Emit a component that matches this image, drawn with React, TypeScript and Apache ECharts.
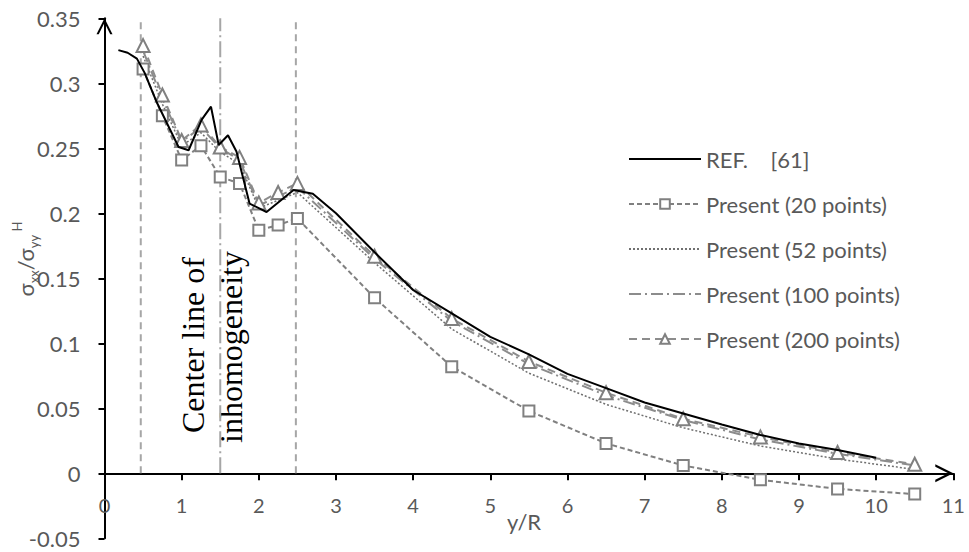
import React, { useEffect, useRef } from "react";
import * as echarts from "echarts";

// ---- data ----
const xPresent = [0.5, 0.75, 1, 1.25, 1.5, 1.75, 2, 2.25, 2.5, 3.5, 4.5, 5.5, 6.5, 7.5, 8.5, 9.5, 10.5];
const present20 = [0.311, 0.275, 0.241, 0.252, 0.228, 0.223, 0.187, 0.191, 0.196, 0.135, 0.082, 0.048, 0.023, 0.006, -0.005, -0.012, -0.016];
const present52 = [0.321, 0.284, 0.252, 0.262, 0.247, 0.238, 0.204, 0.21, 0.216, 0.162, 0.111, 0.077, 0.053, 0.035, 0.021, 0.011, 0.003];
const present100 = [0.325, 0.288, 0.255, 0.266, 0.25, 0.241, 0.206, 0.213, 0.22, 0.165, 0.117, 0.084, 0.06, 0.041, 0.026, 0.015, 0.006];
const present200 = [0.329, 0.291, 0.256, 0.268, 0.251, 0.243, 0.208, 0.216, 0.223, 0.167, 0.119, 0.086, 0.062, 0.042, 0.028, 0.016, 0.007];

const refX = [0.18, 0.3, 0.42, 0.52, 0.68, 0.96, 1.09, 1.26, 1.38, 1.48, 1.6, 1.71, 1.88, 2.1, 2.45, 2.7, 3.0, 3.5, 4.0, 4.5, 5.0, 5.5, 6.0, 6.5, 7.0, 7.5, 8.0, 8.5, 9.0, 9.5, 10.0];
const refY = [0.3255, 0.3235, 0.319, 0.308, 0.285, 0.251, 0.2485, 0.272, 0.282, 0.2525, 0.26, 0.2475, 0.2075, 0.201, 0.218, 0.215, 0.2, 0.17, 0.141, 0.123, 0.105, 0.0915, 0.0765, 0.0655, 0.0545, 0.046, 0.0375, 0.0295, 0.023, 0.018, 0.012];

const boundaryLinesX = [0.47, 2.48];
const centerLinesX = [1.5];
const guideBottom = 0;
const guideTop = 0.35;

const seriesNames = [
  "REF.\u00a0\u00a0\u00a0\u00a0[61]",
  "Present (20 points)",
  "Present (52 points)",
  "Present (100 points)",
  "Present (200 points)",
];

const xMin = 0, xMax = 11, xStep = 1;
const yMin = -0.05, yMax = 0.35, yStep = 0.05;

const zip = (xs: number[], ys: number[]) => xs.map((x, i) => [x, ys[i]]);

const FONT = 'Lato, "Open Sans", sans-serif';
const GRAY_TEXT = "#595959";
const chevron = "path://M0,100 L50,0 L100,100 L86,100 L50,28 L14,100 Z";
const CLEAR = "rgba(0,0,0,0)";

export default function App() {
  const ref = useRef<HTMLDivElement>(null);
  useEffect(() => {
    if (!ref.current) return;
    const chart = echarts.init(ref.current, undefined, { renderer: "svg" });

    const guideSeries: any[] = [];
    boundaryLinesX.forEach((x) =>
      guideSeries.push({
        type: "line",
        data: [[x, guideBottom], [x, guideTop]],
        symbol: "none",
        silent: true,
        z: 1,
        lineStyle: { color: "#a6a6a6", width: 2, type: [7, 5] },
      })
    );
    centerLinesX.forEach((x) =>
      guideSeries.push({
        type: "line",
        data: [[x, guideBottom], [x, guideTop]],
        symbol: "none",
        silent: true,
        z: 1,
        lineStyle: { color: "#a6a6a6", width: 2, type: [16, 4, 2, 4] },
      })
    );

    chart.setOption({
      animation: false,
      grid: { left: 104.5, right: 15.7, top: 18.3, bottom: 13.7, outerBoundsMode: "none" },
      xAxis: {
        type: "value",
        min: xMin,
        max: xMax,
        interval: xStep,
        axisLine: {
          onZero: true,
          lineStyle: { color: "#000", width: 2 },
          symbol: ["none", chevron],
          symbolSize: [18, 18],
          symbolOffset: [0, -9],
        },
        axisTick: { show: true, length: 7, lineStyle: { color: "#000", width: 2 } },
        axisLabel: { color: GRAY_TEXT, fontFamily: FONT, fontSize: 20, margin: -43 },
        splitLine: { show: false },
      },
      yAxis: {
        type: "value",
        min: yMin,
        max: yMax,
        interval: yStep,
        axisLine: {
          show: true,
          onZero: false,
          lineStyle: { color: "#000", width: 2 },
          symbol: ["none", chevron],
          symbolSize: [16, 16],
          symbolOffset: [0, -8],
        },
        axisTick: { show: true, length: 6, lineStyle: { color: "#000", width: 2 } },
        axisLabel: {
          color: GRAY_TEXT,
          fontFamily: FONT,
          fontSize: 22,
          margin: 24,
          formatter: (v: number) => String(parseFloat(v.toFixed(2))),
        },
        splitLine: { show: false },
      },
      legend: {
        orient: "vertical",
        left: 623,
        top: 143,
        itemWidth: 72,
        itemHeight: 12,
        itemGap: 23,
        textStyle: { fontFamily: FONT, fontSize: 22, color: GRAY_TEXT, lineHeight: 20 },
        data: seriesNames,
      },
      graphic: [
        {
          type: "text",
          x: 193,
          y: 345,
          rotation: Math.PI / 2,
          style: {
            text: "Center line of",
            fontFamily: '"Liberation Serif", serif',
            fontSize: 32,
            fill: "#000",
            align: "center",
            verticalAlign: "middle",
          },
        },
        {
          type: "text",
          x: 231,
          y: 347,
          rotation: Math.PI / 2,
          style: {
            text: "inhomogeneity",
            fontFamily: '"Liberation Serif", serif',
            fontSize: 32,
            fill: "#000",
            align: "center",
            verticalAlign: "middle",
          },
        },
        {
          type: "text",
          x: 524,
          y: 521,
          style: {
            text: "y/R",
            fontFamily: FONT,
            fontSize: 22,
            fill: GRAY_TEXT,
            align: "center",
            verticalAlign: "middle",
          },
        },
        {
          type: "text",
          x: 25,
          y: 259,
          rotation: Math.PI / 2,
          style: {
            text: "{m|σ}{s|xx}{m|/σ}{s|yy}{p| H}",
            align: "center",
            verticalAlign: "middle",
            rich: {
              m: { fontFamily: FONT, fontSize: 22, fill: GRAY_TEXT, lineHeight: 30, verticalAlign: "middle" },
              s: { fontFamily: FONT, fontSize: 13, fill: GRAY_TEXT, lineHeight: 30, verticalAlign: "bottom" },
              p: { fontFamily: FONT, fontSize: 13, fill: GRAY_TEXT, lineHeight: 30, verticalAlign: "top" },
            },
          },
        },
      ],
      series: [
        ...guideSeries,
        {
          name: seriesNames[1],
          type: "line",
          data: zip(xPresent, present20),
          symbol: "rect",
          symbolSize: 11,
          z: 3,
          lineStyle: { color: "#808080", width: 2, type: [5, 3] },
          itemStyle: { color: "#ffffff", borderColor: "#808080", borderWidth: 2 },
        },
        {
          name: seriesNames[2],
          type: "line",
          data: zip(xPresent, present52),
          symbol: "none",
          z: 3,
          lineStyle: { color: "#707070", width: 1.5, type: [2, 2] },
          itemStyle: { color: CLEAR, borderWidth: 0 },
        },
        {
          name: seriesNames[3],
          type: "line",
          data: zip(xPresent, present100),
          symbol: "none",
          z: 3,
          lineStyle: { color: "#8c8c8c", width: 2, type: [12, 4, 2, 4] },
          itemStyle: { color: CLEAR, borderWidth: 0 },
        },
        {
          name: seriesNames[4],
          type: "line",
          data: zip(xPresent, present200),
          symbol: "triangle",
          symbolSize: 13,
          z: 3,
          lineStyle: { color: "#8c8c8c", width: 2, type: [8, 5] },
          itemStyle: { color: "#ffffff", borderColor: "#808080", borderWidth: 2 },
        },
        {
          name: seriesNames[0],
          type: "line",
          data: zip(refX, refY),
          symbol: "none",
          z: 4,
          lineStyle: { color: "#000", width: 2 },
          itemStyle: { color: CLEAR, borderWidth: 0 },
        },
      ],
    });
    return () => chart.dispose();
  }, []);
  return (
    <div
      ref={ref}
      style={{ position: "fixed", left: 0, top: 0, width: 969, height: 552, background: "#fff" }}
    />
  );
}
